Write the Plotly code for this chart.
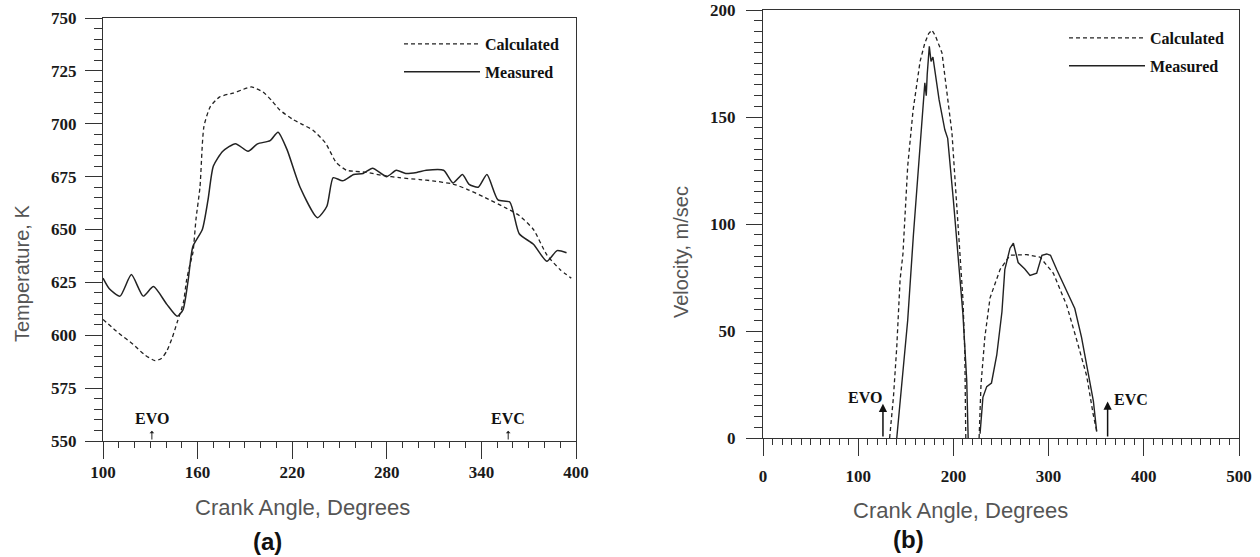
import plotly.graph_objects as go

# ---------------- data: panel (a) temperature ----------------
ca_calc_a = [100, 110, 119, 126, 133, 137, 140.5, 144, 147, 151, 153, 155, 157, 159, 161.5, 164, 168,
             174, 182.5, 188, 194, 201.5, 207, 212, 220.5, 227, 233, 241, 248, 254.5, 260, 267, 278,
             288, 301, 309, 322, 331, 341, 356, 364, 373, 381.5, 390, 397]
temp_calc_a = [607.5, 601, 595.8, 591, 588, 589, 592.6, 599, 606, 615.5, 626, 633, 639, 655, 670, 698.6, 708,
               712.7, 714.5, 716, 717.4, 715, 711, 706.6, 702, 699.5, 697, 691, 681.6, 678, 677.5, 677, 675.5,
               674.5, 673.6, 673, 671.5, 669, 665.6, 660, 656.6, 650, 638, 631, 627]

ca_meas_a = [100, 104, 110.8, 118, 125.5, 132, 140.5, 147, 150.7, 154, 157, 163, 166.6, 170, 176, 184,
             192, 198, 206, 211, 216.6, 225, 236, 242, 246, 252, 259, 265, 271, 280, 286, 292, 299, 305,
             316, 322, 328, 332, 338, 343.5, 350.5, 358, 364, 373, 381.5, 388, 394]
temp_meas_a = [627, 622, 618.5, 628.7, 618.5, 623, 614.6, 609, 612, 626, 642, 650, 664, 680, 687, 690.6,
               687, 690.5, 692, 696, 688, 670, 655.6, 661, 674.5, 673, 676, 676.5, 679, 675, 678, 676.5, 677, 678,
               678, 672, 676, 671.5, 670, 676, 664, 663, 648, 643, 635, 640, 639]

# ---------------- data: panel (b) velocity ----------------
ca_calc_b1 = [133, 137, 140.5, 144, 147, 152, 157.6, 165, 170, 174, 177.5, 181, 188, 194.6, 198.5, 203.6, 207, 210, 212, 213]
vel_calc_b1 = [0, 19, 42.5, 74, 86, 127, 153, 176, 184.6, 189, 190.6, 188, 180, 155, 142.5, 108, 86, 65, 40, 0]
ca_calc_b2 = [227, 229, 233, 238.5, 249, 259.5, 277, 291, 305, 319, 329.6, 340, 347, 350.5]
vel_calc_b2 = [0, 25, 47, 65.5, 78.7, 85.4, 85.7, 84.5, 77, 62, 45.7, 29, 10.7, 3.3]

ca_meas_b1 = [140.5, 146, 152, 158, 165, 170, 171.5, 172.5, 174.7, 176.5, 178.5, 180.5, 182, 185, 191, 194,
              200, 205, 210, 214, 215.5]
vel_meas_b1 = [0, 27, 55, 95, 137.8, 166, 160, 170, 183, 176, 178, 172, 168, 158, 144, 140,
               111, 86, 58, 27, 0]
ca_meas_b2 = [228, 231, 235, 240, 245.6, 251, 254, 259.5, 263, 268, 275, 280.5, 287.5, 293, 298, 302,
              308.5, 319, 327.5, 334.6, 341.5, 347, 350.5]
vel_meas_b2 = [2, 19, 24, 25.7, 39, 59, 78.7, 88.7, 91, 82, 79, 76, 77, 85.4, 86, 85.4,
               78.7, 68.8, 60.5, 47, 30.7, 17.4, 3]

# ---------------- event markers ----------------
evo_a, evc_a = 131, 357
evo_b, evc_b = 126, 362

W, H = 1260, 557
LINE = "#222222"
SERIF = "Liberation Serif"
SANS = "Liberation Sans"


def px_x(p):
    return p / W


def px_y(p):
    return 1 - p / H


fig = go.Figure()

fig.add_trace(go.Scatter(x=ca_calc_a, y=temp_calc_a, mode="lines", name="Calculated",
                         line=dict(color=LINE, width=1.3, dash="4px,3px", shape="spline", smoothing=0.6),
                         xaxis="x", yaxis="y", legend="legend", legendgroup="c1"))
fig.add_trace(go.Scatter(x=ca_meas_a, y=temp_meas_a, mode="lines", name="Measured",
                         line=dict(color=LINE, width=1.5, shape="spline", smoothing=0.6),
                         xaxis="x", yaxis="y", legend="legend", legendgroup="m1"))

fig.add_trace(go.Scatter(x=ca_calc_b1 + [None] + ca_calc_b2, y=vel_calc_b1 + [None] + vel_calc_b2,
                         mode="lines", name="Calculated",
                         line=dict(color=LINE, width=1.3, dash="4px,3px"),
                         xaxis="x2", yaxis="y2", legend="legend2", legendgroup="c2"))
fig.add_trace(go.Scatter(x=ca_meas_b1 + [None] + ca_meas_b2, y=vel_meas_b1 + [None] + vel_meas_b2,
                         mode="lines", name="Measured",
                         line=dict(color=LINE, width=1.4),
                         xaxis="x2", yaxis="y2", legend="legend2", legendgroup="m2"))

tickfont = dict(family=SERIF, size=17, color="#1a1a1a", weight="bold")
common = dict(showline=True, linecolor="#333333", linewidth=1.2, mirror=True, showgrid=False,
              zeroline=False, ticks="outside", tickcolor="#333333", tickwidth=1.2, tickfont=tickfont,
              automargin=False)
leg_font = dict(family=SERIF, size=16, color="#111", weight="bold")

fig.update_layout(
    width=W, height=H, margin=dict(l=0, r=0, t=0, b=0, autoexpand=False),
    paper_bgcolor="white", plot_bgcolor="white",
    xaxis=dict(domain=[px_x(103), px_x(576)], range=[100, 400], tick0=100, dtick=60, ticklen=17,
               minor=dict(dtick=10, ticklen=6, ticks="outside", tickcolor="#333333"),
               ticklabelstandoff=-2, anchor="y", **common),
    yaxis=dict(domain=[px_y(441), px_y(18)], range=[550, 750], dtick=25, ticklen=17,
               minor=dict(dtick=5, ticklen=8, ticks="outside", tickcolor="#333333"),
               ticklabelstandoff=5, anchor="x", **common),
    xaxis2=dict(domain=[px_x(763), px_x(1239)], range=[0, 500], dtick=100, ticklen=17,
                minor=dict(dtick=10, ticklen=6, ticks="outside", tickcolor="#333333"),
                ticklabelstandoff=5, anchor="y2", **common),
    yaxis2=dict(domain=[px_y(438), px_y(10)], range=[0, 200], dtick=50, ticklen=16,
                minor=dict(dtick=5, ticklen=8, ticks="outside", tickcolor="#333333"),
                ticklabelstandoff=7, anchor="x2", **common),
    legend=dict(x=px_x(399), y=px_y(27), xanchor="left", yanchor="top", bgcolor="rgba(0,0,0,0)",
                font=leg_font, itemwidth=76, tracegroupgap=4, traceorder="grouped"),
    legend2=dict(x=px_x(1064), y=px_y(21), xanchor="left", yanchor="top", bgcolor="rgba(0,0,0,0)",
                 font=leg_font, itemwidth=76, tracegroupgap=4, traceorder="grouped"),
    showlegend=True,
)

ann = []
title_font = dict(family=SANS, size=20, color="#555555")
base = dict(xref="paper", yref="paper", showarrow=False, xanchor="center", yanchor="middle")
ann.append(dict(text="Temperature, K", x=px_x(22), y=px_y(274), textangle=-90, font=title_font, **base))
ann.append(dict(text="Velocity, m/sec", x=px_x(681), y=px_y(252), textangle=-90, font=title_font, **base))
xt_font = dict(family=SANS, size=22, color="#555555")
ann.append(dict(text="Crank Angle, Degrees", x=px_x(302), y=px_y(507), font=xt_font, **base))
ann.append(dict(text="Crank Angle, Degrees", x=px_x(960), y=px_y(510), font=xt_font, **base))
lab_font = dict(family=SANS, size=24, color="#111111", weight="bold")
ann.append(dict(text="(a)", x=px_x(267), y=px_y(541), font=lab_font, **base))
ann.append(dict(text="(b)", x=px_x(908), y=px_y(539), font=lab_font, **base))

ev_font = dict(family=SERIF, size=16, color="#111111", weight="bold")
# panel (a) markers
for v in (evo_a, evc_a):
    ann.append(dict(text="", x=v, y=554.8, ax=v, ay=550, xref="x", yref="y", axref="x", ayref="y",
                    showarrow=True, arrowhead=1, arrowsize=0.8, arrowwidth=1, arrowcolor="#222"))
ann.append(dict(text="EVO", x=evo_a, y=560.8, xref="x", yref="y", showarrow=False, font=ev_font,
                xanchor="center", yanchor="middle"))
ann.append(dict(text="EVC", x=evc_a, y=560.8, xref="x", yref="y", showarrow=False, font=ev_font,
                xanchor="center", yanchor="middle"))
# panel (b) markers
ann.append(dict(text="", x=evo_b, y=16, ax=evo_b, ay=0, xref="x2", yref="y2", axref="x2", ayref="y2",
                showarrow=True, arrowhead=2, arrowsize=1.1, arrowwidth=1.5, arrowcolor="#111"))
ann.append(dict(text="", x=evc_b, y=17, ax=evc_b, ay=0, xref="x2", yref="y2", axref="x2", ayref="y2",
                showarrow=True, arrowhead=2, arrowsize=1.1, arrowwidth=1.5, arrowcolor="#111"))
ann.append(dict(text="EVO", x=evo_b + 1.5, y=19, xref="x2", yref="y2", xanchor="right", yanchor="middle",
                showarrow=False, font=ev_font))
ann.append(dict(text="EVC", x=evc_b + 5, y=18.2, xref="x2", yref="y2", xanchor="left", yanchor="middle",
                showarrow=False, font=ev_font))

fig.update_layout(annotations=ann)

fig.write_html("out.html", config={"displayModeBar": False},
               post_script="document.body.style.margin='0px';")
